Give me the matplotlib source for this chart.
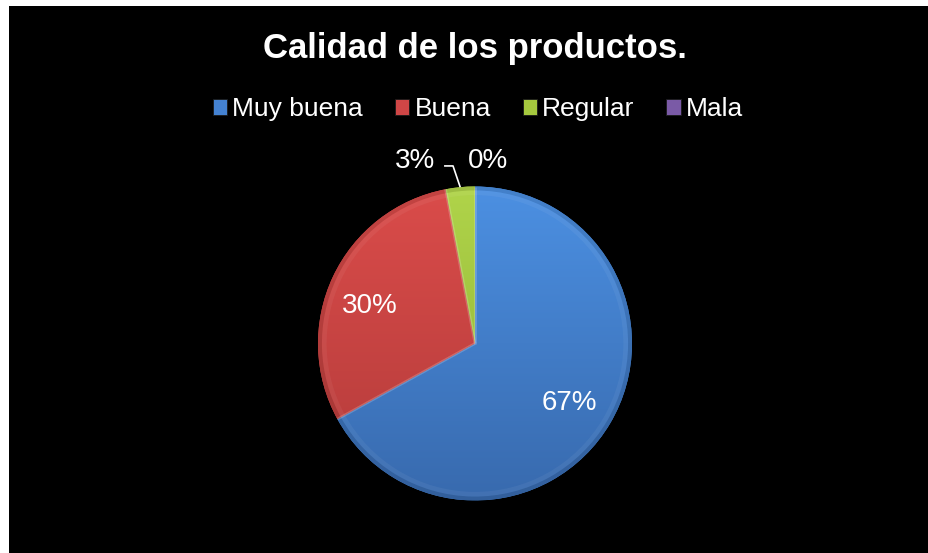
import matplotlib
matplotlib.use("Agg")
import matplotlib.pyplot as plt
from matplotlib.patches import Rectangle, Wedge
import numpy as np

# Data
categories = ["Muy buena", "Buena", "Regular", "Mala"]
values = [67, 30, 3, 0]
pct_labels = ["67%", "30%", "3%", "0%"]
title = "Calidad de los productos."

colors = ["#4482D2", "#CF4646", "#A5C83E", "#7A5AA6"]
top_colors = ["#4C90E2", "#DA4C4A", "#B0D44A", "#8566B2"]
bottom_colors = ["#386AAE", "#B33B3A", "#8CAE32", "#634A8C"]

W, H, DPI = 929, 553, 100
plt.rcParams["font.family"] = ["Liberation Sans", "DejaVu Sans"]

fig = plt.figure(figsize=(W / DPI, H / DPI), dpi=DPI, facecolor="white")

# black chart area
fig.patches.append(Rectangle((9 / W, 0), 1 - 9 / W, 1 - 6 / H,
                             transform=fig.transFigure, facecolor="black",
                             edgecolor="none", zorder=-5))

# pie axes: centre (475, 343.5) px, radius 157 px
cx, cy, R = 475.0, 343.5, 157.0
half = 200.0
ax = fig.add_axes([(cx - half) / W, (H - cy - half) / H, 2 * half / W, 2 * half / H])

wedges, _ = ax.pie(values, colors=colors, startangle=90, counterclock=False,
                   radius=1.0, wedgeprops=dict(edgecolor="none"))


def hex_rgb(h):
    return np.array([int(h[i:i + 2], 16) / 255 for i in (1, 3, 5)])


# vertical shading inside each slice, soft rim and light bevel on the edges
t = np.linspace(0, 1, 256)[:, None, None]
for w, tc, bc in zip(wedges, top_colors, bottom_colors):
    if w.theta2 - w.theta1 <= 0:
        continue
    grad = (1 - t) * hex_rgb(tc) + t * hex_rgb(bc)
    im = ax.imshow(grad, extent=(-1, 1, -1, 1), origin="upper",
                   aspect="auto", zorder=2, interpolation="bilinear")
    im.set_clip_path(w)
    ax.add_patch(Wedge((0, 0), 1.0, w.theta1, w.theta2, width=0.025,
                       facecolor="black", alpha=0.10, edgecolor="none", zorder=3))
    ax.add_patch(Wedge((0, 0), 0.975, w.theta1, w.theta2, width=0.03,
                       facecolor="white", alpha=0.05, edgecolor="none", zorder=3))
    for ang in (w.theta1, w.theta2):
        a = np.deg2rad(ang)
        ax.plot([0, np.cos(a)], [0, np.sin(a)], color="white", alpha=0.10,
                lw=2.0, zorder=3, solid_capstyle="butt")

ax.set_xlim(-half / R, half / R)
ax.set_ylim(-half / R, half / R)
ax.set_aspect("equal")
ax.axis("off")

# percentage labels
total = sum(values)
start = 90.0
mids = []
for v in values:
    span = 360.0 * v / total
    mids.append(np.deg2rad(start - span / 2))
    start -= span

label_pos = [(0.600, -0.424), (-0.672, 0.196), (-0.382, 1.118), (0.083, 1.118)]
for (x, y), lab in zip(label_pos, pct_labels):
    ax.text(x, y, lab, color="white", fontsize=20, ha="center",
            va="baseline", zorder=5, clip_on=False)

# leader line for the small slice
px, py = np.cos(mids[2]), np.sin(mids[2])
ax.plot([-0.197, -0.140, px], [1.131, 1.131, py], color="white", lw=1.2,
        zorder=5, clip_on=False, solid_capstyle="butt")

# title
fig.text(cx / W, 1 - 58 / H, title, color="white", fontsize=25,
         fontweight="bold", ha="center", va="baseline")

# legend
handles = [Rectangle((0, 0), 1, 1, facecolor=c, edgecolor="#1a1a1a", lw=0.6)
           for c in colors]
leg = fig.legend(handles, categories, loc="center", ncol=4,
                 bbox_to_anchor=(478 / W, 1 - 109 / H), frameon=False,
                 fontsize=19, handlelength=0.55, handleheight=0.55,
                 handletextpad=0.2, columnspacing=1.2, labelcolor="white",
                 borderpad=0, borderaxespad=0)

fig.savefig("out.png", dpi=DPI, facecolor="white")
